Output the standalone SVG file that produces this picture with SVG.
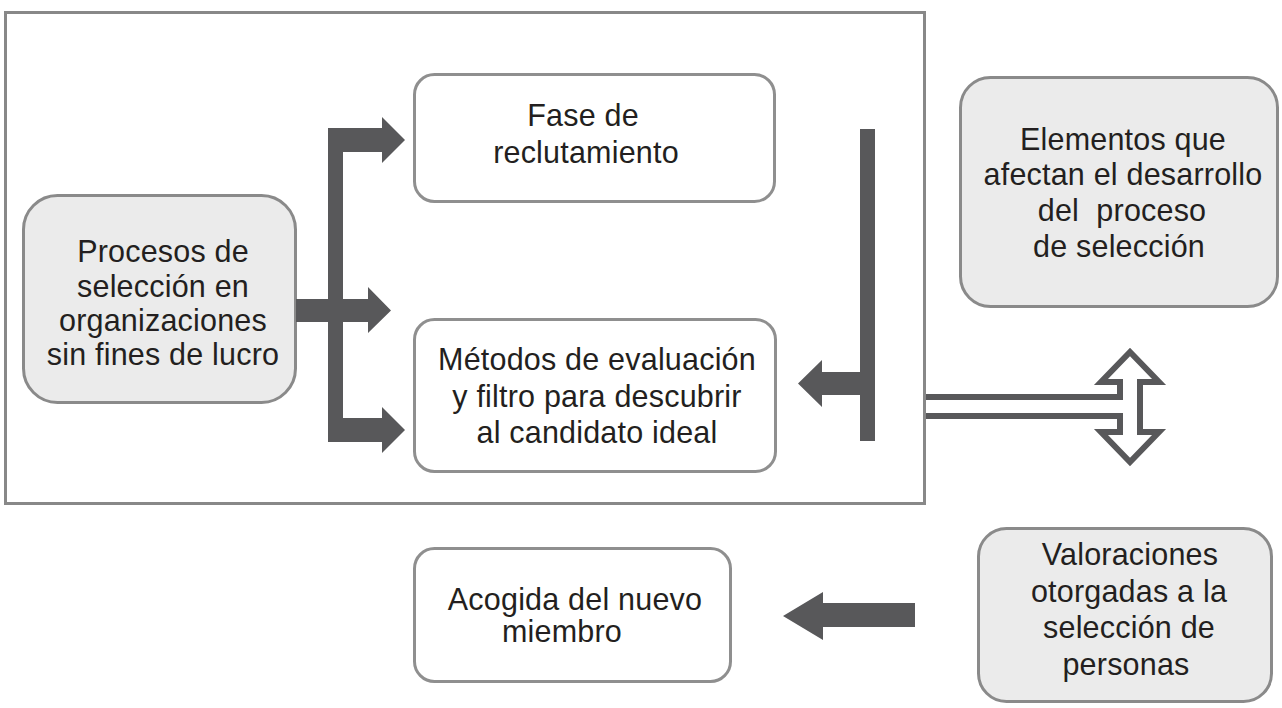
<svg xmlns="http://www.w3.org/2000/svg" width="1282" height="708" viewBox="0 0 1282 708">
<style>
.frame{fill:none;stroke:#888;stroke-width:3}
.box{fill:#fff;stroke:#8f8f8f;stroke-width:3}
.gbox{fill:#ebebeb;stroke:#8a8a8a;stroke-width:3}
.t{font-family:"Liberation Sans",Arial,sans-serif;font-size:30.5px;letter-spacing:0.2px;fill:#231f20;text-anchor:middle}
.arr{fill:#58585a}
.oarr{fill:#fff;stroke:#58585a;stroke-width:6;stroke-linejoin:miter}
</style>
<rect width="1282" height="708" fill="#fff"/>
<rect class="frame" x="5.5" y="12.5" width="919" height="491"/>
<g id="n-procesos">
<rect class="gbox" x="23.5" y="195.5" width="272" height="207" rx="34"/>
<text class="t" x="163" y="262">Procesos de</text>
<text class="t" x="163" y="297">selección en</text>
<text class="t" x="163" y="331">organizaciones</text>
<text class="t" x="163" y="365">sin fines de lucro</text>
</g>
<g id="n-fase">
<rect class="box" x="414.5" y="74.5" width="360" height="127" rx="20"/>
<text class="t" x="583" y="126">Fase de</text>
<text class="t" x="586" y="163">reclutamiento</text>
</g>
<g id="n-metodos">
<rect class="box" x="414.5" y="319.5" width="361" height="152" rx="20"/>
<text class="t" x="597" y="370">Métodos de evaluación</text>
<text class="t" x="597" y="407">y filtro para descubrir</text>
<text class="t" x="597" y="443">al candidato ideal</text>
</g>
<g id="n-elementos">
<rect class="gbox" x="960.5" y="77.5" width="317" height="229" rx="30"/>
<text class="t" x="1123" y="150">Elementos que</text>
<text class="t" x="1123" y="185">afectan el desarrollo</text>
<text class="t" x="1122" y="221" xml:space="preserve">del  proceso</text>
<text class="t" x="1119" y="257">de selección</text>
</g>
<g id="n-acogida">
<rect class="box" x="414.5" y="548.5" width="316" height="133" rx="20"/>
<text class="t" x="575" y="610">Acogida del nuevo</text>
<text class="t" x="562" y="642">miembro</text>
</g>
<g id="n-valoraciones">
<rect class="gbox" x="978.5" y="528.5" width="293" height="173" rx="28"/>
<text class="t" x="1130" y="565">Valoraciones</text>
<text class="t" x="1129" y="602">otorgadas a la</text>
<text class="t" x="1129" y="638">selección de</text>
<text class="t" x="1126" y="675">personas</text>
</g>
<g id="connectors">
<path class="arr" d="M296,299 H368 V287 L391,310.5 L368,333 V322 H296 Z"/>
<path class="arr" d="M328,128 H382 V117 L405,140 L382,163 V152 H343 V418 H382 V407 L405,430 L382,453 V442 H328 Z"/>
<path class="arr" d="M860,129 H875 V441 H860 V395 H822 V407 L798,383.5 L822,360 V372 H860 Z"/>
<path class="arr" d="M915,603 V627 H823 V640 L783,616 L823,592 V603 Z"/>
<path class="oarr" d="M926,397 H1120 V382 H1101 L1130,352 L1159,382 H1140 V432 H1159 L1130,462 L1101,432 H1120 V416 H926"/>
</g>
</svg>
